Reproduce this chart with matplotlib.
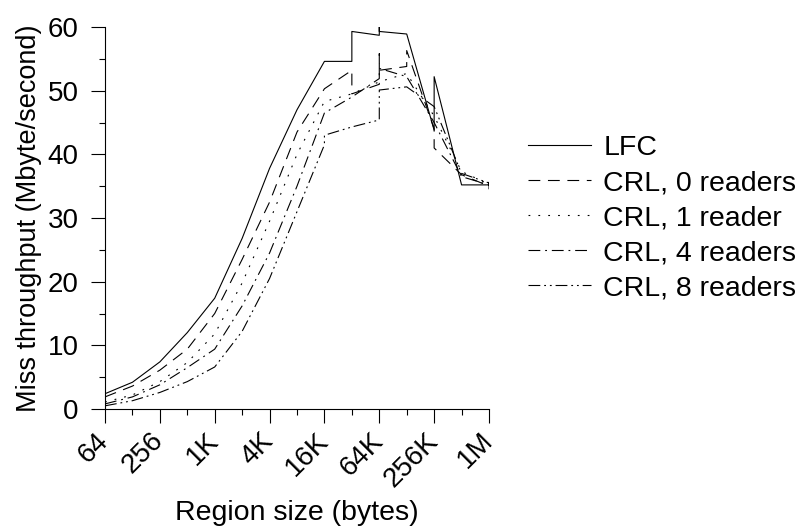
import matplotlib
matplotlib.use("Agg")
import matplotlib.pyplot as plt
from matplotlib.ticker import FixedLocator, NullFormatter
from matplotlib.transforms import ScaledTranslation

plt.rcParams['font.family'] = ['Liberation Sans', 'DejaVu Sans']
plt.rcParams['lines.scale_dashes'] = False

K = 1024

# region sizes (bytes) and miss throughput (Mbyte/s); repeated x = several runs at one size
lfc_x = [64, 128, 256, 512, K, 2*K, 4*K, 8*K, 16*K, 32*K, 32*K, 64*K, 64*K, 64*K,
         128*K, 256*K, 256*K, 512*K, 1024*K, 1024*K, 1024*K]
lfc_y = [2.4, 4.2, 7.4, 12.0, 17.4, 26.8, 37.8, 47.0, 54.6, 54.6, 59.3, 58.7, 60.3, 59.3,
         58.9, 43.8, 52.2, 35.2, 35.2, 35.6, 34.6]

crl0_x = [64, 128, 256, 512, K, 2*K, 4*K, 8*K, 16*K, 32*K, 32*K, 64*K, 64*K, 64*K,
          128*K, 128*K, 256*K, 256*K, 512*K, 1024*K]
crl0_y = [1.9, 3.6, 6.1, 9.4, 15.0, 23.5, 32.5, 43.5, 50.3, 53.2, 49.5, 51.0, 55.8, 53.2,
          53.8, 56.3, 44.0, 41.0, 36.8, 35.0]

crl1_x = [64, 128, 256, 512, K, 2*K, 4*K, 8*K, 16*K, 32*K, 64*K, 128*K, 256*K, 512*K, 1024*K]
crl1_y = [1.1, 2.2, 4.3, 7.3, 11.8, 19.8, 29.5, 40.0, 48.3, 49.5, 51.4, 52.7, 46.0, 37.3, 35.3]

crl4_x = [64, 128, 256, 512, K, 2*K, 4*K, 8*K, 16*K, 32*K, 64*K, 64*K, 128*K, 256*K, 512*K, 1024*K]
crl4_y = [0.8, 1.9, 3.8, 6.5, 9.4, 16.2, 24.5, 35.0, 46.5, 49.0, 51.9, 53.5, 52.2, 45.0, 36.5, 35.2]

crl8_x = [64, 128, 256, 512, K, 2*K, 4*K, 8*K, 16*K, 16*K, 32*K, 64*K, 64*K, 128*K,
          256*K, 512*K, 1024*K]
crl8_y = [0.5, 1.3, 2.6, 4.3, 6.6, 12.2, 20.5, 31.0, 41.5, 43.0, 44.3, 45.4, 50.1, 50.6,
          47.5, 37.0, 35.5]

series = [
    ('LFC', lfc_x, lfc_y, '-'),
    ('CRL, 0 readers', crl0_x, crl0_y, (0, (8.5, 5.5))),
    ('CRL, 1 reader', crl1_x, crl1_y, (0, (1.3, 5.8))),
    ('CRL, 4 readers', crl4_x, crl4_y, (0, (8.5, 3.5, 1.3, 3.5))),
    ('CRL, 8 readers', crl8_x, crl8_y, (0, (8.5, 2.8, 1.3, 2.8, 1.3, 2.8))),
]

tick_vals = [2**k for k in range(6, 21, 2)]
tick_labels = ['64', '256', '1K', '4K', '16K', '64K', '256K', '1M']

fig = plt.figure(figsize=(8.02, 5.31), dpi=100)
ax = fig.add_axes([105/802, 1 - 409/531, (489 - 105)/802, (409 - 27)/531])

for name, xs, ys, ls in series:
    ax.plot(xs, ys, color='black', lw=0.8, linestyle=ls, label=name)

ax.set_xscale('log', base=2)
ax.set_xlim(64, 1024*K)
ax.set_ylim(0, 60)
ax.xaxis.set_major_locator(FixedLocator(tick_vals))
ax.xaxis.set_minor_locator(FixedLocator([2**k for k in range(7, 20, 2)]))
ax.xaxis.set_minor_formatter(NullFormatter())
ax.set_xticklabels(tick_labels, rotation=45, ha='right', va='center',
                   rotation_mode='anchor')
# nudge the slanted labels a little to the right, like the original
shift = ScaledTranslation(4/72, 0, fig.dpi_scale_trans)
for lbl in ax.get_xticklabels():
    lbl.set_transform(lbl.get_transform() + shift)
ax.set_yticks(range(0, 61, 10))
ax.yaxis.set_minor_locator(FixedLocator(range(5, 60, 10)))

for side in ('top', 'right'):
    ax.spines[side].set_visible(False)
for side in ('left', 'bottom'):
    ax.spines[side].set_linewidth(0.8)
ax.tick_params(which='major', direction='out', length=10, width=0.8,
               labelsize=20, pad=9)
ax.tick_params(which='minor', direction='out', length=4.5, width=0.8)
ax.tick_params(axis='x', which='major', pad=10)

ax.set_xlabel('Region size (bytes)', fontsize=20.5, labelpad=6)
ax.set_ylabel('Miss throughput (Mbyte/second)', fontsize=19.5, labelpad=4)

fig.legend(loc='upper left', bbox_to_anchor=(528/802, 1 - 135/531),
           frameon=False, fontsize=20.5, handlelength=2.2, handletextpad=0.45,
           labelspacing=0.32, borderpad=0, borderaxespad=0)

fig.savefig('out.png', dpi=100)
